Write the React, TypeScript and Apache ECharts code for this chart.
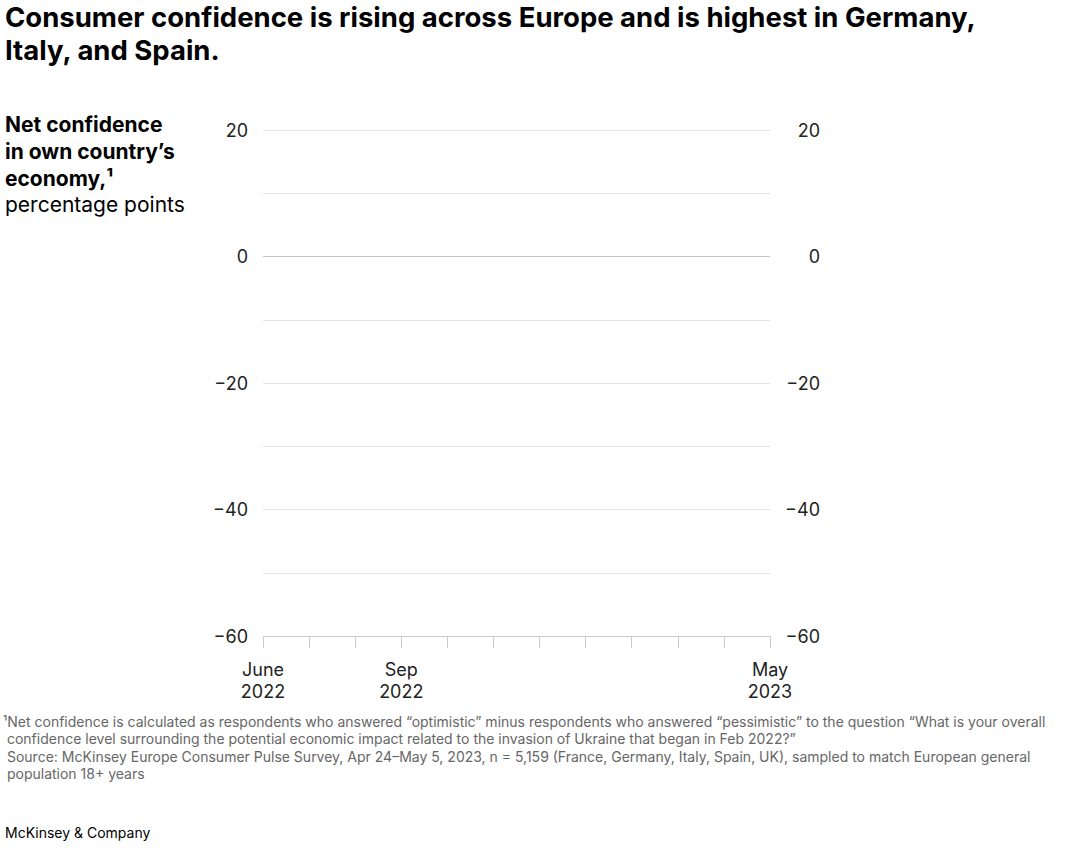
import { useEffect, useRef } from 'react';
import * as echarts from 'echarts';

// months on the x axis, only some of them get a label
const months = [
  'June 2022', 'Jul 2022', 'Aug 2022', 'Sep 2022', 'Oct 2022', 'Nov 2022',
  'Dec 2022', 'Jan 2023', 'Feb 2023', 'Mar 2023', 'Apr 2023', 'May 2023',
];
const labeledMonths = ['June 2022', 'Sep 2022', 'May 2023'];

// y axis range and ticks
const yMin = -60;
const yMax = 20;
const yStep = 10;
const yLabelStep = 20;

const titleLines = [
  'Consumer confidence is rising across Europe and is highest in Germany,',
  'Italy, and Spain.',
];
const noteLines = [
  '\u00b9Net confidence is calculated as respondents who answered \u201coptimistic\u201d minus respondents who answered \u201cpessimistic\u201d to the question \u201cWhat is your overall',
  ' confidence level surrounding the potential economic impact related to the invasion of Ukraine that began in Feb 2022?\u201d',
  ' Source: McKinsey Europe Consumer Pulse Survey, Apr 24\u2013May 5, 2023, n = 5,159 (France, Germany, Italy, Spain, UK), sampled to match European general',
  ' population 18+ years',
];

const FONT = 'Inter, "Noto Sans", sans-serif';

const fmtY = (v: number) =>
  v % yLabelStep === 0 ? (v < 0 ? '\u2212' + Math.abs(v) : String(v)) : '';

export default function App() {
  const chartRef = useRef<HTMLDivElement>(null);

  useEffect(() => {
    if (!chartRef.current) return;
    const chart = echarts.init(chartRef.current, undefined, { renderer: 'svg' });

    // 0 line a bit darker than the other grid lines
    const splitColors: string[] = [];
    for (let v = yMin; v <= yMax; v += yStep) {
      splitColors.push(v === 0 ? '#c4c4c4' : '#e3e3e3');
    }

    const valueAxisBase = {
      type: 'value' as const,
      min: yMin,
      max: yMax,
      interval: yStep,
      axisLine: { show: false },
      axisTick: { show: false },
    };

    const option: echarts.EChartsOption = {
      animation: false,
      textStyle: { fontFamily: FONT },
      grid: { left: 263, right: 310, top: 130, bottom: 212 },
      xAxis: {
        type: 'category',
        data: months,
        boundaryGap: false,
        axisLine: { onZero: false, lineStyle: { color: '#cccccc', width: 1 } },
        axisTick: {
          show: true,
          interval: 0,
          length: 12,
          lineStyle: { color: '#cccccc' },
        },
        axisLabel: {
          interval: (_i: number, v: string) => labeledMonths.includes(v),
          formatter: (v: string) => v.replace(' ', '\n'),
          color: '#222',
          fontSize: 18,
          lineHeight: 22,
          margin: 22,
          fontFamily: FONT,
        },
        splitLine: { show: false },
      },
      yAxis: [
        {
          ...valueAxisBase,
          position: 'left',
          axisLabel: {
            formatter: fmtY,
            color: '#222',
            fontSize: 18,
            margin: 15,
            fontFamily: FONT,
          },
          splitLine: { show: true, lineStyle: { color: splitColors, width: 1 } },
        },
        {
          ...valueAxisBase,
          position: 'right',
          axisLabel: {
            formatter: fmtY,
            color: '#222',
            fontSize: 18,
            margin: 50,
            align: 'right',
            fontFamily: FONT,
          },
          splitLine: { show: false },
        },
      ],
      series: [],
      graphic: [
        ...titleLines.map((t, i) => ({
          type: 'text' as const,
          left: 5,
          top: 3 + i * 33,
          style: { text: t, fontSize: 27.5, fontWeight: 'bold' as const, fill: '#000', fontFamily: FONT },
        })),
        {
          type: 'text',
          left: 5,
          top: 111,
          style: {
            text: 'Net confidence\nin own country\u2019s\neconomy,\u00b9',
            fontSize: 21,
            lineHeight: 27,
            fontWeight: 'bold',
            fill: '#000',
            fontFamily: FONT,
          },
        },
        {
          type: 'text',
          left: 5,
          top: 194,
          style: { text: 'percentage points', fontSize: 21, fill: '#000', fontFamily: FONT },
        },
        ...noteLines.map((t, i) => ({
          type: 'text' as const,
          left: 3,
          top: 714 + i * 17.5,
          style: { text: t, fontSize: 14, fill: '#666', fontFamily: FONT },
        })),
        {
          type: 'text',
          left: 5,
          top: 825,
          style: { text: 'McKinsey & Company', fontSize: 14, fill: '#000', fontFamily: FONT },
        },
      ],
    };

    chart.setOption(option);
    return () => chart.dispose();
  }, []);

  return (
    <div
      ref={chartRef}
      style={{ position: 'fixed', left: 0, top: 0, width: 1080, height: 848, background: '#fff' }}
    />
  );
}
